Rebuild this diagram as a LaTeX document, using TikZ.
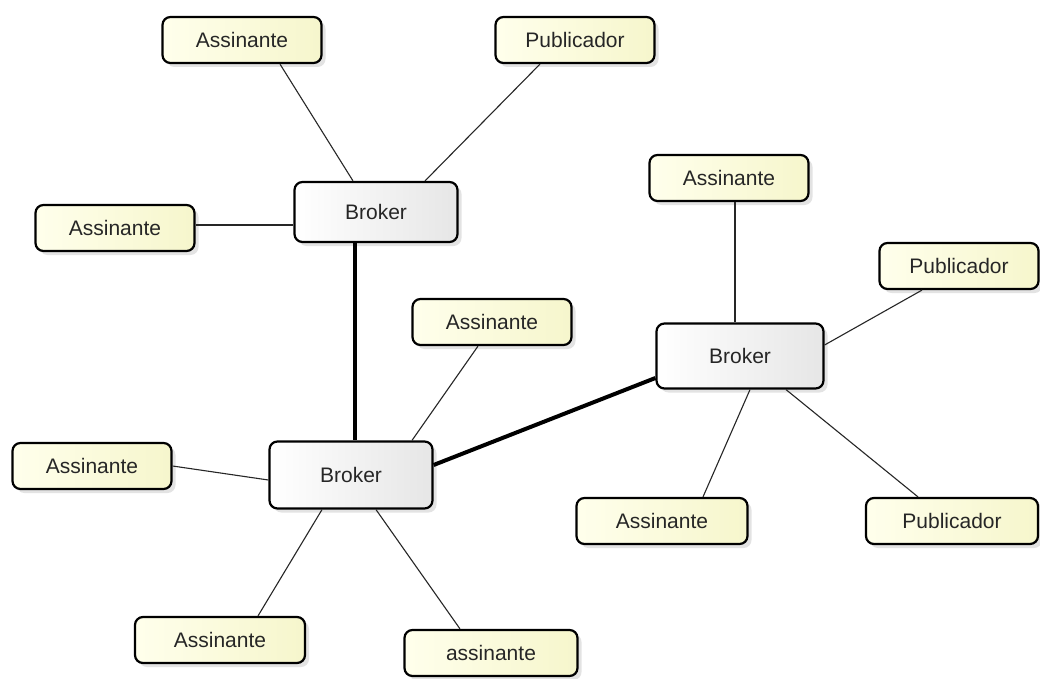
\documentclass[tikz,border=0pt]{standalone}
\usepackage{fontspec}
\setmainfont{Liberation Sans}
\usetikzlibrary{shadows}
\definecolor{leafA}{RGB}{255,255,236}
\definecolor{leafB}{RGB}{246,246,204}
\definecolor{brokB}{RGB}{230,230,230}
\begin{document}
\begin{tikzpicture}[x=1pt,y=-1pt,
  box/.style={draw=black, line width=2.2pt, rounded corners=8pt,
    font=\fontsize{21}{24}\selectfont, text=black!85,
    drop shadow={opacity=0.22,shadow xshift=4pt,shadow yshift=-4pt}},
  leaf/.style={box, left color=leafA, right color=leafB, minimum width=159pt, minimum height=46pt},
  broker/.style={box, left color=white, right color=brokB, minimum width=163pt, minimum height=63pt},
  link/.style={line width=1.1pt, black!85},
  trunk/.style={line width=4pt, black}]
\fill[white] (0,0) rectangle (1040,679);
\useasboundingbox (0,0) rectangle (1040,679);

\node[broker, minimum height=60pt] (b1) at (376,212) {Broker};
\node[broker, minimum height=67pt] (b2) at (351,475) {Broker};
\node[broker, minimum width=167pt, minimum height=65pt] (b3) at (740,356) {Broker};

\node[leaf] (a1) at (242,40) {Assinante};
\node[leaf] (p1) at (575,40) {Publicador};
\node[leaf] (a2) at (115,228) {Assinante};
\node[leaf] (a3) at (492,322) {Assinante};
\node[leaf] (a4) at (92,466) {Assinante};
\node[leaf, minimum width=170pt] (a5) at (220,640) {Assinante};
\node[leaf, minimum width=173pt] (a6) at (491,653) {assinante};
\node[leaf] (a7) at (729,178) {Assinante};
\node[leaf] (p2) at (959,266) {Publicador};
\node[leaf, minimum width=171pt] (a8) at (662,521) {Assinante};
\node[leaf, minimum width=172pt] (p3) at (952,521) {Publicador};

\draw[link] ([xshift=38pt]a1.south) -- ([xshift=-23pt]b1.north);
\draw[link] ([xshift=-35pt]p1.south) -- ([xshift=49pt]b1.north);
\draw[link] ([yshift=3pt]a2.east) -- ([yshift=-13pt]b1.west);
\draw[trunk] ([xshift=-21pt]b1.south) -- ([xshift=4pt]b2.north);
\draw[link] ([xshift=-14pt]a3.south) -- ([xshift=61pt]b2.north);
\draw[link] (a4.east) -- ([yshift=-5pt]b2.west);
\draw[link] ([xshift=-29pt]b2.south) -- ([xshift=38pt]a5.north);
\draw[link] ([xshift=25pt]b2.south) -- ([xshift=-31pt]a6.north);
\draw[trunk] ([yshift=10pt]b2.east) -- ([yshift=-22pt]b3.west);
\draw[link] ([xshift=6pt]a7.south) -- ([xshift=-5pt]b3.north);
\draw[link] ([yshift=11pt]b3.east) -- ([xshift=-37pt]p2.south);
\draw[link] ([xshift=10pt]b3.south) -- ([xshift=41pt]a8.north);
\draw[link] ([xshift=46pt]b3.south) -- ([xshift=-34pt]p3.north);
\end{tikzpicture}
\end{document}
